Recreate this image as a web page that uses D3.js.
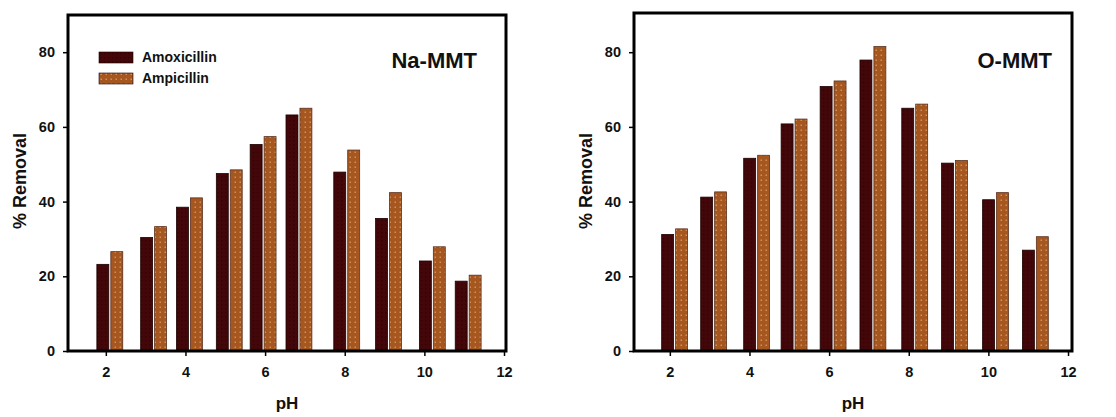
<!DOCTYPE html>
<html>
<head>
<meta charset="utf-8">
<script src="https://cdn.jsdelivr.net/npm/d3@7/dist/d3.min.js"></script>
<style>
    body { margin: 0; background: #fff; }
    svg { display: block; font-family: "Liberation Sans", Arial, sans-serif; }
</style>
</head>
<body>
<svg id="chart" width="1116" height="417"></svg>
<script>
// values (pH position of each bar pair, % removal)
var seriesNames = ["Amoxicillin", "Ampicillin"];
var yTicks = [0, 20, 40, 60, 80];
var xTicks = [2, 4, 6, 8, 10, 12];

var phNa = [2.1, 3.2, 4.1, 5.1, 5.95, 6.85, 8.05, 9.1, 10.2, 11.1];
var amoxNa = [23.2, 30.4, 38.5, 47.5, 55.3, 63.2, 47.9, 35.5, 24.1, 18.7];
var ampNa = [26.6, 33.3, 41.0, 48.5, 57.4, 65.0, 53.8, 42.4, 27.9, 20.3];

var phO = [2.12, 3.1, 4.18, 5.12, 6.1, 7.1, 8.15, 9.15, 10.18, 11.18];
var amoxO = [31.2, 41.2, 51.6, 60.8, 70.8, 77.9, 65.0, 50.3, 40.5, 27.0];
var ampO = [32.7, 42.6, 52.4, 62.1, 72.3, 81.5, 66.1, 51.0, 42.4, 30.6];

var panels = [
    { title: "Na-MMT", ph: phNa, amox: amoxNa, amp: ampNa, left: 68, top: 15, xMin: 1.05, titleInset: 29, yLabelX: 26, legend: true },
    { title: "O-MMT", ph: phO, amox: amoxO, amp: ampO, left: 634, top: 13, xMin: 1.1, titleInset: 20, yLabelX: 592, legend: false }
];

var plotW = 438, bottom = 351;
var pxPer20 = 74.7;
var barW = 0.3, barGap = 0.05;

var svg = d3.select("#chart");

// fill patterns: dark maroon and dotted brown
var defs = svg.append("defs");
var p1 = defs.append("pattern").attr("id", "patAmox")
    .attr("patternUnits", "userSpaceOnUse").attr("width", 4).attr("height", 4);
p1.append("rect").attr("width", 4).attr("height", 4).attr("fill", "#430609");
p1.append("rect").attr("x", 1).attr("y", 1).attr("width", 1.2).attr("height", 1.2).attr("fill", "#300305");

var p2 = defs.append("pattern").attr("id", "patAmp")
    .attr("patternUnits", "userSpaceOnUse").attr("width", 5).attr("height", 5);
p2.append("rect").attr("width", 5).attr("height", 5).attr("fill", "#a6561f");
p2.append("rect").attr("x", 1.5).attr("y", 1.5).attr("width", 1.5).attr("height", 1.5).attr("fill", "#d0905c");

var fills = ["url(#patAmox)", "url(#patAmp)"];

panels.forEach(function(p) {
    var g = svg.append("g").attr("transform", "translate(" + p.left + "," + p.top + ")");
    var h = bottom - p.top;

    var x = d3.scaleLinear().domain([p.xMin, p.xMin + 11]).range([0, plotW]);
    var y = d3.scaleLinear().domain([0, 20 * h / pxPer20]).range([h, 0]);

    var rows = p.ph.map(function(c, i) { return { ph: c, v: [p.amox[i], p.amp[i]] }; });

    [0, 1].forEach(function(s) {
        g.selectAll(".bar" + s).data(rows).enter().append("rect")
            .attr("class", "bar" + s)
            .attr("x", function(d) {
                return s === 0 ? x(d.ph - barGap / 2 - barW) : x(d.ph + barGap / 2);
            })
            .attr("width", x(barW) - x(0))
            .attr("y", function(d) { return y(d.v[s]); })
            .attr("height", function(d) { return h - y(d.v[s]); })
            .attr("fill", fills[s])
            .attr("stroke", s === 0 ? "#1c0000" : "#5a3020")
            .attr("stroke-width", 0.8);
    });

    // frame
    g.append("rect").attr("width", plotW).attr("height", h)
        .attr("fill", "none").attr("stroke", "#000").attr("stroke-width", 3);

    var xAxis = g.append("g").attr("transform", "translate(0," + h + ")")
        .call(d3.axisBottom(x).tickValues(xTicks).tickSize(5).tickPadding(11));
    var yAxis = g.append("g")
        .call(d3.axisLeft(y).tickValues(yTicks).tickSize(5).tickPadding(8));
    [xAxis, yAxis].forEach(function(a) {
        a.select(".domain").remove();
        a.selectAll("line").attr("stroke", "#000").attr("stroke-width", 1.5);
        a.selectAll("text").attr("fill", "#111").attr("font-size", 14.5)
            .attr("font-weight", "bold").attr("font-family", "Liberation Sans, Arial, sans-serif");
    });

    g.append("text").attr("x", plotW / 2).attr("y", 409 - p.top)
        .attr("text-anchor", "middle").attr("font-size", 17).attr("font-weight", "bold")
        .attr("fill", "#111").text("pH");

    g.append("text")
        .attr("transform", "translate(" + (p.yLabelX - p.left) + "," + (181 - p.top) + ") rotate(-90)")
        .attr("text-anchor", "middle").attr("font-size", 18).attr("font-weight", "bold")
        .attr("fill", "#111").text("% Removal");

    g.append("text").attr("x", plotW - p.titleInset).attr("y", 68 - p.top)
        .attr("text-anchor", "end").attr("font-size", 22).attr("font-weight", "bold")
        .attr("fill", "#111").text(p.title);

    if (p.legend) {
        var lg = g.append("g").attr("transform", "translate(31," + (52 - p.top) + ")");
        seriesNames.forEach(function(name, i) {
            lg.append("rect").attr("x", 0).attr("y", i * 21).attr("width", 34).attr("height", 11)
                .attr("fill", fills[i]).attr("stroke", "#1c0000").attr("stroke-width", 0.6);
            lg.append("text").attr("x", 43).attr("y", i * 21 + 5.5).attr("dy", "0.35em")
                .attr("font-size", 14).attr("font-weight", "bold").attr("fill", "#111").text(name);
        });
    }
});
</script>
</body>
</html>
